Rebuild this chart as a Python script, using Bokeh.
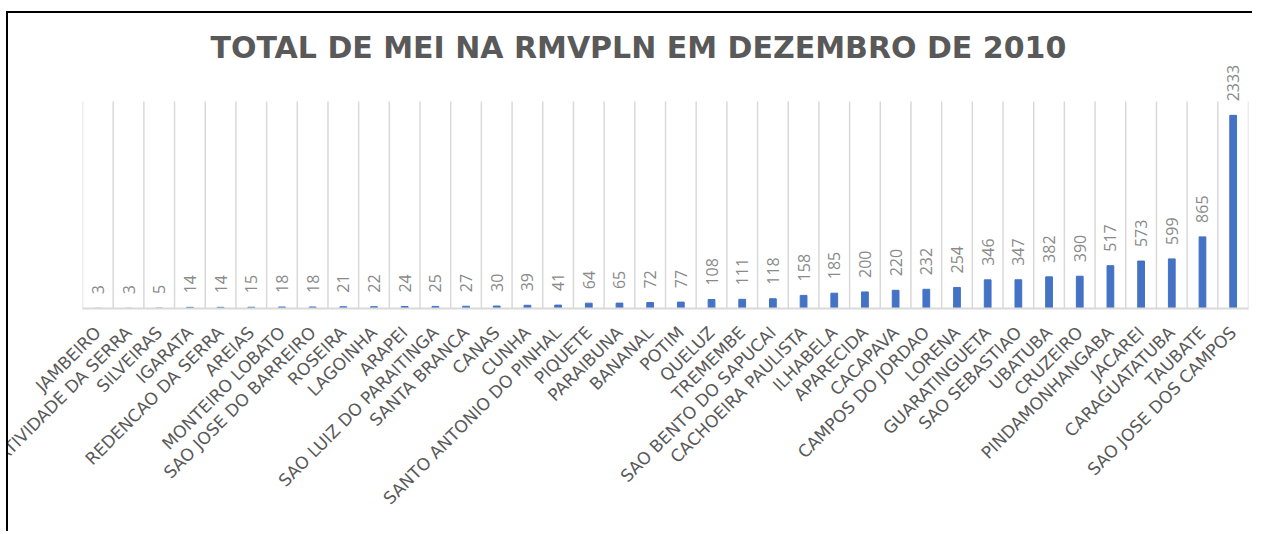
import math
from bokeh.plotting import figure
from bokeh.models import Range1d, FixedTicker, ColumnDataSource, LabelSet
from bokeh.core.properties import value
from bokeh.embed import file_html
from bokeh.resources import INLINE

municipios = [
    "JAMBEIRO", "NATIVIDADE DA SERRA", "SILVEIRAS", "IGARATA", "REDENCAO DA SERRA",
    "AREIAS", "MONTEIRO LOBATO", "SAO JOSE DO BARREIRO", "ROSEIRA", "LAGOINHA",
    "ARAPEI", "SAO LUIZ DO PARAITINGA", "SANTA BRANCA", "CANAS", "CUNHA",
    "SANTO ANTONIO DO PINHAL", "PIQUETE", "PARAIBUNA", "BANANAL", "POTIM",
    "QUELUZ", "TREMEMBE", "SAO BENTO DO SAPUCAI", "CACHOEIRA PAULISTA", "ILHABELA",
    "APARECIDA", "CACAPAVA", "CAMPOS DO JORDAO", "LORENA", "GUARATINGUETA",
    "SAO SEBASTIAO", "UBATUBA", "CRUZEIRO", "PINDAMONHANGABA", "JACAREI",
    "CARAGUATATUBA", "TAUBATE", "SAO JOSE DOS CAMPOS",
]
mei_total = [
    3, 3, 5, 14, 14, 15, 18, 18, 21, 22,
    24, 25, 27, 30, 39, 41, 64, 65, 72, 77,
    108, 111, 118, 158, 185, 200, 220, 232, 254, 346,
    347, 382, 390, 517, 573, 599, 865, 2333,
]
titulo = "TOTAL DE MEI NA RMVPLN EM DEZEMBRO DE 2010"
y_max = 2500          # top of the value axis (grid lines end here)
y_view = 2947         # visible range, leaves room for the value labels

n = len(municipios)
idx = list(range(n))
src = ColumnDataSource(dict(x=idx, top=mei_total, label=[str(v) for v in mei_total]))
bounds = [i - 0.5 for i in range(n + 1)]
grid_src = ColumnDataSource(dict(x=bounds, y0=[0] * len(bounds), y1=[y_max] * len(bounds)))

p = figure(
    width=1246, height=520, output_backend="svg", toolbar_location=None,
    x_range=Range1d(-0.5, n - 0.5), y_range=Range1d(0, y_view),
    min_border_left=74, min_border_right=6, min_border_top=51, min_border_bottom=225,
    title=titulo,
)
p.styles = {"border-top": "2px solid #000000", "border-left": "2px solid #000000",
            "margin-top": "11px", "margin-left": "6px"}
p.outline_line_color = None
p.background_fill_color = "white"
p.border_fill_color = "white"

p.title.text_font = "DejaVu Sans"
p.title.text_font_size = "30px"
p.title.text_font_style = "bold"
p.title.text_color = "#595959"
p.title.align = "left"
p.title.offset = 128
p.title.standoff = 0

p.yaxis.visible = False
p.ygrid.grid_line_color = None
p.xgrid.grid_line_color = None

p.segment(x0="x", y0="y0", x1="x", y1="y1", line_color="#D9D9D9", line_width=1.5,
          source=grid_src)

ax = p.xaxis[0]
ax.ticker = FixedTicker(ticks=idx)
ax.major_label_overrides = {i: m for i, m in zip(idx, municipios)}
ax.major_label_orientation = math.pi / 4
ax.major_tick_line_color = None
ax.minor_tick_line_color = None
ax.axis_line_color = "#D9D9D9"
ax.axis_line_width = 2
ax.major_label_standoff = 15
ax.major_label_text_font = "DejaVu Sans"
ax.major_label_text_font_size = "17px"
ax.major_label_text_color = "#595959"

p.vbar(x="x", top="top", bottom=0, width=0.22, color="#4472C4", source=src)
labels = LabelSet(x="x", y="top", text="label", angle=math.pi / 2, text_align="left",
                  text_baseline="middle", y_offset=14, text_font=value("Open Sans"),
                  text_font_size="16px", text_color="#8A8A8A", source=src)
p.add_layout(labels)

open("out.html", "w").write(file_html(p, INLINE))
